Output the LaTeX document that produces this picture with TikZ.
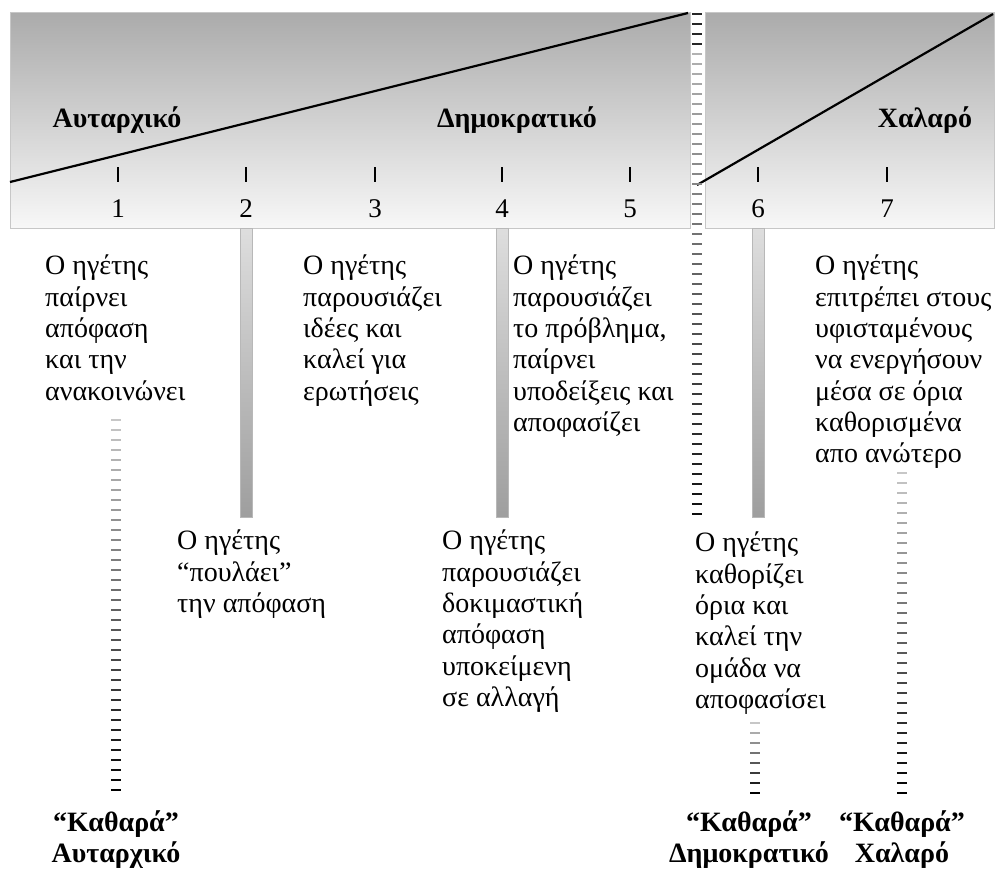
\documentclass[tikz,border=0pt]{standalone}
\usepackage{fontspec}
\setmainfont{Liberation Serif}
\usetikzlibrary{positioning,calc}

\begin{document}
\begin{tikzpicture}[
  x=1pt, y=-1pt,
  font=\fontsize{28}{31.3}\selectfont,
  band/.style={top color=black!33, bottom color=black!3, draw=black!22, line width=0.6pt},
  slope/.style={line width=2.2pt, black},
  scaletick/.style={line width=1.3pt, black},
  scalenum/.style={anchor=base, inner sep=0pt, font=\fontsize{27}{31}\selectfont},
  stylelab/.style={anchor=base, inner sep=0pt, font=\fontsize{28}{31}\selectfont\bfseries},
  desc/.style={anchor=north west, align=left, inner sep=0pt},
  pillar/.style={top color=black!13, bottom color=black!38, draw=black!28, line width=0.6pt},
  rung/.style={line width=2.4pt},
  purelab/.style={anchor=north, align=center, inner sep=0pt,
                  font=\fontsize{28}{31}\selectfont\bfseries}
]
\useasboundingbox (0,0) rectangle (998,871);

% ---------- Bands ----------
\fill[band] (10,12) rectangle (690,228);
\fill[band] (705,12) rectangle (994,228);
\draw[slope] (10,182) -- (688,13);
\draw[slope] (697,185) -- (993,14);

% ---------- Style labels ----------
\node[stylelab] (lblAut) at (117,127) {Αυταρχικό};
\node[stylelab] (lblDem) at (517,127) {Δημοκρατικό};
\node[stylelab] (lblLai) at (925,127) {Χαλαρό};

% ---------- Scale ----------
\foreach \i/\x in {1/118,2/246,3/375,4/502,5/630,6/758,7/887} {
  \draw[scaletick] (\x,167) -- (\x,182);
  \node[scalenum] (num\i) at (\x,217) {\i};
}

% ---------- Pillars ----------
\foreach \x in {246,502,758}
  \shade[pillar] (\x-6,228) rectangle (\x+6,517);

% ---------- Dashed columns ----------
\foreach \x/\ya/\yb in {116/420/797, 755/723/798, 902/473/797} {
  \pgfmathtruncatemacro{\n}{(\yb-\ya)/10}
  \foreach \k in {0,...,\n} {
    \pgfmathtruncatemacro{\shade}{22+78*\k/\n}
    \draw[rung, black!\shade] (\x-5,\ya+10*\k) -- (\x+5,\ya+10*\k);
  }
}
\foreach \k in {0,...,50} {
  \pgfmathtruncatemacro{\shade}{\k<4 ? 85 : 25+70*\k/50}
  \draw[rung, black!\shade] (692,14+10*\k) -- (702,14+10*\k);
}

% ---------- Descriptions ----------
\node[desc] (txt1) at (45,255)  {Ο ηγέτης\\παίρνει\\απόφαση\\και την\\ανακοινώνει};
\node[desc] (txt2) at (177,530) {Ο ηγέτης\\“πουλάει”\\την απόφαση};
\node[desc] (txt3) at (303,255) {Ο ηγέτης\\παρουσιάζει\\ιδέες και\\καλεί για\\ερωτήσεις};
\node[desc] (txt4) at (442,530) {Ο ηγέτης\\παρουσιάζει\\δοκιμαστική\\απόφαση\\υποκείμενη\\σε αλλαγή};
\node[desc] (txt5) at (513,255) {Ο ηγέτης\\παρουσιάζει\\το πρόβλημα,\\παίρνει\\υποδείξεις και\\αποφασίζει};
\node[desc] (txt6) at (695,532) {Ο ηγέτης\\καθορίζει\\όρια και\\καλεί την\\ομάδα να\\αποφασίσει};
\node[desc] (txt7) at (815,255) {Ο ηγέτης\\επιτρέπει στους\\υφισταμένους\\να ενεργήσουν\\μέσα σε όρια\\καθορισμένα\\απο ανώτερο};

% ---------- Pure styles ----------
\node[purelab] (pure1) at (116,810) {“Καθαρά”\\Αυταρχικό};
\node[purelab] (pure2) at (749,810) {“Καθαρά”\\Δημοκρατικό};
\node[purelab] (pure3) at (902,810) {“Καθαρά”\\Χαλαρό};

\end{tikzpicture}
\end{document}
